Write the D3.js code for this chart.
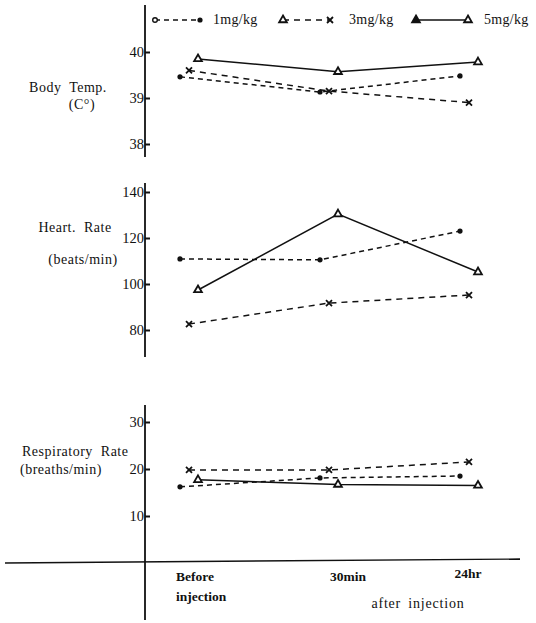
<!DOCTYPE html>
<html>
<head>
<meta charset="utf-8">
<script src="https://cdn.jsdelivr.net/npm/d3@7/dist/d3.min.js"></script>
<style>
  body { margin: 0; background: #fff; }
  text { font-family: "Liberation Serif", "DejaVu Serif", serif; fill: #111; }
</style>
</head>
<body>
<svg id="vis-svg" width="536" height="623"></svg>
<script>
// times along the x axis
var times = ["Before", "30min", "24hr"];
var doses = ["1mg/kg", "3mg/kg", "5mg/kg"];

// values, one array per dose
var tempLow = [39.46, 39.13, 39.48];
var tempMid = [39.6, 39.15, 38.9];
var tempHigh = [39.85, 39.57, 39.78];

var heartLow = [110.9, 110.5, 123];
var heartMid = [82.6, 91.7, 95.2];
var heartHigh = [97.4, 130.4, 105.2];

var respLow = [16.2, 18.1, 18.5];
var respMid = [19.8, 19.8, 21.5];
var respHigh = [17.7, 16.7, 16.5];

var tempTicks = [38, 39, 40];
var heartTicks = [80, 100, 120, 140];
var respTicks = [10, 20, 30];

var svg = d3.select("#vis-svg");
var axisX = 145;
var serif = "Liberation Serif, DejaVu Serif, serif";

var x = d3.scalePoint().domain(times).range([190, 470]);

// small sideways shift per dose, like the hand drawn original
var shift = { "1mg/kg": -10, "3mg/kg": -1, "5mg/kg": 8 };
var dash = { "1mg/kg": "5,4", "3mg/kg": "6,5", "5mg/kg": null };

var panels = [
  { label: ["Body Temp.", "(C°)"], labelY: [92, 109], labelX: [68, 82], anchor: "middle",
    y: d3.scaleLinear().domain([38, 40]).range([144, 52]),
    ticks: tempTicks, top: 5, bottom: 157,
    series: [tempLow, tempMid, tempHigh] },
  { label: ["Heart. Rate", "(beats/min)"], labelY: [232, 264], labelX: [75, 83], anchor: "middle",
    y: d3.scaleLinear().domain([80, 140]).range([330, 192]),
    ticks: heartTicks, top: 183, bottom: 357,
    series: [heartLow, heartMid, heartHigh] },
  { label: ["Respiratory Rate", "(breaths/min)"], labelY: [456, 474], labelX: [22, 20], anchor: "start",
    y: d3.scaleLinear().domain([0, 30]).range([563, 422]),
    ticks: respTicks, top: 405, bottom: 620,
    series: [respLow, respMid, respHigh] }
];

function drawMarker(g, kind, cx, cy) {
  if (kind === "dot") {
    g.append("circle").attr("cx", cx).attr("cy", cy).attr("r", 2.6).attr("fill", "#111");
  } else if (kind === "ring") {
    g.append("circle").attr("cx", cx).attr("cy", cy).attr("r", 2.3)
      .attr("fill", "#fff").attr("stroke", "#111").attr("stroke-width", 1.4);
  } else if (kind === "cross") {
    g.append("path")
      .attr("d", "M" + (cx - 3) + "," + (cy - 3) + "L" + (cx + 3) + "," + (cy + 3) +
                 "M" + (cx + 3) + "," + (cy - 3) + "L" + (cx - 3) + "," + (cy + 3))
      .attr("stroke", "#111").attr("stroke-width", 1.8);
  } else {
    g.append("path")
      .attr("d", d3.symbol().type(d3.symbolTriangle).size(26)())
      .attr("transform", "translate(" + cx + "," + cy + ")")
      .attr("fill", kind === "solidTri" ? "#111" : "#fff")
      .attr("stroke", "#111").attr("stroke-width", 1.8);
  }
}
var marker = { "1mg/kg": "dot", "3mg/kg": "cross", "5mg/kg": "tri" };

panels.forEach(function(p) {
  var g = svg.append("g");

  // vertical axis segment
  g.append("line")
    .attr("x1", axisX).attr("x2", axisX)
    .attr("y1", p.top).attr("y2", p.bottom)
    .attr("stroke", "#111").attr("stroke-width", 1.8);

  var axis = d3.axisLeft(p.y).tickValues(p.ticks)
    .tickSizeInner(-5).tickSizeOuter(0).tickPadding(1)
    .tickFormat(d3.format("d"));
  var ag = g.append("g").attr("transform", "translate(" + axisX + ",0)").call(axis);
  ag.select(".domain").remove();
  ag.selectAll(".tick line").attr("stroke", "#111").attr("stroke-width", 2);
  ag.selectAll(".tick text")
    .attr("font-family", serif).style("font-family", serif)
    .style("font-size", "14.5px").attr("fill", "#111");

  p.label.forEach(function(t, i) {
    g.append("text").attr("x", p.labelX[i]).attr("y", p.labelY[i])
      .attr("text-anchor", p.anchor)
      .style("font-size", "14px").style("letter-spacing", "0.5px").style("word-spacing", "4px")
      .text(t);
  });

  p.series.forEach(function(vals, si) {
    var dose = doses[si];
    var line = d3.line()
      .x(function(d, i) { return x(times[i]) + shift[dose]; })
      .y(function(d) { return p.y(d); });
    g.append("path").datum(vals)
      .attr("d", line)
      .attr("fill", "none").attr("stroke", "#111").attr("stroke-width", 1.5)
      .attr("stroke-dasharray", dash[dose]);
    vals.forEach(function(v, i) {
      drawMarker(g, marker[dose], x(times[i]) + shift[dose], p.y(v));
    });
  });
});

// baseline of the bottom panel
var base = panels[2].y(0);
svg.append("line").attr("x1", 5).attr("x2", 520)
  .attr("y1", base).attr("y2", base - 4)
  .attr("stroke", "#111").attr("stroke-width", 1.4);

// x labels
var xl = svg.append("g").style("font-size", "13.5px").style("font-weight", "bold");
xl.append("text").attr("x", x("Before") - 14).attr("y", 581).text("Before");
xl.append("text").attr("x", x("Before") - 14).attr("y", 601).text("injection");
xl.append("text").attr("x", x("30min") + 18).attr("y", 581).attr("text-anchor", "middle").text("30min");
xl.append("text").attr("x", x("24hr") - 2).attr("y", 578).attr("text-anchor", "middle").text("24hr");
svg.append("text").attr("x", 418).attr("y", 608).attr("text-anchor", "middle")
  .style("font-size", "14px").style("letter-spacing", "0.8px").style("word-spacing", "3px")
  .text("after injection");

// legend, markers as drawn in the original key
var lg = svg.append("g");
var legendItems = [
  { dose: "1mg/kg", x1: 155, x2: 200, tx: 213, m1: "ring", m2: "dot" },
  { dose: "3mg/kg", x1: 283, x2: 330, tx: 349, m1: "tri", m2: "cross" },
  { dose: "5mg/kg", x1: 416, x2: 468, tx: 484, m1: "solidTri", m2: "tri" }
];
legendItems.forEach(function(it) {
  lg.append("line").attr("x1", it.x1).attr("x2", it.x2).attr("y1", 20).attr("y2", 20)
    .attr("stroke", "#111").attr("stroke-width", 1.5)
    .attr("stroke-dasharray", dash[it.dose]);
  drawMarker(lg, it.m1, it.x1, 20);
  drawMarker(lg, it.m2, it.x2, 20);
  lg.append("text").attr("x", it.tx).attr("y", 24)
    .style("font-size", "14px").style("letter-spacing", "0.3px").text(it.dose);
});
</script>
</body>
</html>
